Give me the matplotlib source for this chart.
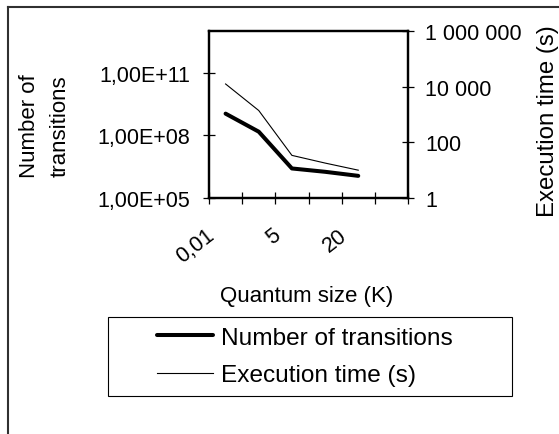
import matplotlib
matplotlib.use("Agg")
import matplotlib.pyplot as plt
import matplotlib.transforms as mtransforms
from matplotlib.lines import Line2D
from matplotlib.patches import Rectangle
from matplotlib.ticker import FixedLocator, NullLocator

plt.rcParams['font.family'] = ['Liberation Sans', 'DejaVu Sans']

# ---- data ----
categories = ['0,01', '1', '5', '10', '20', '50']
shown_labels = ['0,01', '', '5', '', '20', '']
transitions = [1.1e9, 1.5e8, 2.6e6, 1.8e6, 1.15e6]
exec_time = [12500, 1390, 34, 18, 10]
left_ticks = [1e5, 1e8, 1e11]
left_tick_labels = ['1,00E+05', '1,00E+08', '1,00E+11']
right_ticks = [1, 100, 1e4, 1e6]
right_tick_labels = ['1', '100', '10 000', '1 000 000']

W, H = 559, 435
fig = plt.figure(figsize=(W / 100, H / 100), dpi=100)

def fx(px):
    return px / W

def fy(py):
    return (H - py) / H

L, R, T, B = 209, 408, 32, 199
ax = fig.add_axes([fx(L), fy(B), fx(R) - fx(L), fy(T) - fy(B)])
ax2 = ax.twinx()

n = len(categories)
xs = list(range(1, len(transitions) + 1))

ax.plot(xs, transitions, color='black', lw=2.9, solid_joinstyle='round',
        solid_capstyle='round', label='Number of transitions', zorder=3)
ax2.plot(xs, exec_time, color='black', lw=0.8, label='Execution time (s)', zorder=3)

ax.set_yscale('log')
ax.set_ylim(1e5, 1e13)
ax2.set_yscale('log')
ax2.set_ylim(1, 1e6)
ax.set_xlim(0.5, n + 0.5)

ax.yaxis.set_major_locator(FixedLocator(left_ticks))
ax.set_yticklabels(left_tick_labels)
ax.yaxis.set_minor_locator(NullLocator())
ax2.yaxis.set_major_locator(FixedLocator(right_ticks))
ax2.set_yticklabels(right_tick_labels)
ax2.yaxis.set_minor_locator(NullLocator())

# category boundaries as major ticks, labels at centers as minor ticks
ax.set_xticks([i + 0.5 for i in range(0, n + 1)])
ax.set_xticklabels([])
ax.set_xticks(list(range(1, n + 1)), minor=True)
ax.set_xticklabels(shown_labels, minor=True)

tick_kw = dict(direction='inout', length=8.6, width=0.9, color='black')
ax.tick_params(axis='y', which='major', labelsize=15.5, pad=9, **tick_kw)
ax2.tick_params(axis='y', which='major', labelsize=15.5, pad=8, **tick_kw)
ax.tick_params(axis='x', which='major', labelsize=15.5, **tick_kw)
ax.tick_params(axis='x', which='minor', length=0, labelsize=15.5, pad=19)

off = mtransforms.ScaledTranslation(-20 / 100, 0, fig.dpi_scale_trans)
for lab in ax.get_xticklabels(minor=True):
    lab.set_rotation(38)
    lab.set_ha('right')
    lab.set_va('top')
    lab.set_rotation_mode('anchor')
    lab.set_transform(lab.get_transform() + off)

for a in (ax, ax2):
    for s in a.spines.values():
        s.set_linewidth(1.6)
        s.set_color('black')

# axis titles
fig.text(fx(45), fy(126), 'Number of\ntransitions', rotation=90, ha='center',
         va='center', fontsize=16, linespacing=1.62, multialignment='center')
fig.text(fx(548), fy(121.5), 'Execution time (s)', rotation=90, ha='center',
         va='center', fontsize=17.3)
fig.text(fx(306.7), fy(301.7), 'Quantum size (K)', ha='center', va='baseline',
         fontsize=16)

# legend
handles = [Line2D([], [], color='black', lw=2.9, solid_capstyle='round'),
           Line2D([], [], color='black', lw=0.8)]
labels = ['Number of transitions', 'Execution time (s)']
fig.legend(handles, labels, loc='center left',
           bbox_to_anchor=(fx(157), fy(357.5)), frameon=False, fontsize=17.6,
           borderpad=0, borderaxespad=0, handlelength=2.3, handletextpad=0.32,
           labelspacing=0.62)
fig.patches.append(Rectangle((fx(107.7), fy(396.7)), fx(511.6) - fx(107.7),
                             fy(318.3) - fy(396.7), transform=fig.transFigure,
                             fill=False, edgecolor='black', lw=0.8))

# outer chart frame (partially visible)
fig.add_artist(Line2D([fx(7.5), fx(W + 5)], [fy(7.5), fy(7.5)],
                      transform=fig.transFigure, color='#303030', lw=1.5))
fig.add_artist(Line2D([fx(7.5), fx(7.5)], [fy(7.5), fy(H + 5)],
                      transform=fig.transFigure, color='#303030', lw=1.5))

fig.savefig('out.png', dpi=100)
